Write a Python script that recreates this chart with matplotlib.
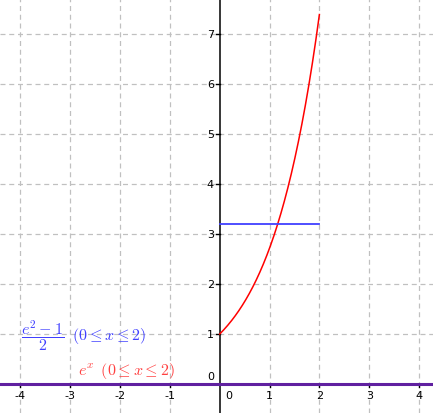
import numpy as np
from matplotlib import pyplot as plt

plt.rcParams['mathtext.fontset'] = 'cm'

# data
x_ticks = [-4, -3, -2, -1, 0, 1, 2, 3, 4]
y_ticks = [0, 1, 2, 3, 4, 5, 6, 7]
x_lo, x_hi = 0, 2
blue_val = (np.e ** 2 - 1) / 2

fig = plt.figure(figsize=(4.33, 4.14), dpi=100)
ax = fig.add_axes([0, 0, 1, 1])
ax.set_xlim(-4.41, 4.28)
ax.set_ylim(-0.58, 7.70)
for s in ax.spines.values():
    s.set_visible(False)
ax.set_xticks([])
ax.set_yticks([])

# dashed grid
for xv in x_ticks:
    if xv != 0:
        ax.axvline(xv, color='#c0c0c0', lw=0.9, dashes=(4, 3), zorder=0)
for yv in y_ticks:
    if yv != 0:
        ax.axhline(yv, color='#c0c0c0', lw=0.9, dashes=(4, 3), zorder=0)

# axes
ax.axvline(0, color='black', lw=1.1, zorder=2)
ax.axhline(0, color='#6020a0', lw=2.2, zorder=3)

# tick marks and labels
for yv in y_ticks:
    if yv != 0:
        ax.plot([-0.08, 0], [yv, yv], color='black', lw=1, zorder=2)
        ax.text(-0.12, yv, str(yv), ha='right', va='center', fontsize=8)
ax.text(-0.12, 0.06, '0', ha='right', va='bottom', fontsize=8)
for xv in x_ticks:
    if xv != 0:
        ax.plot([xv, xv], [-0.06, 0], color='black', lw=1, zorder=2)
        ax.text(xv, -0.13, str(xv), ha='center', va='top', fontsize=8)
ax.text(0.18, -0.13, '0', ha='center', va='top', fontsize=8)

# functions
xs = np.linspace(x_lo, x_hi, 200)
ax.plot(xs, np.exp(xs), color='red', lw=1.1, zorder=4)
ax.plot([x_lo, x_hi], [blue_val, blue_val], color='#4040ff', lw=1.3, zorder=4)

ax.text(-3.98, 0.98, r'$\dfrac{e^2-1}{2}\;\ (0 \leq x \leq 2)$', color='#4040ff',
        ha='left', va='center', fontsize=11.5)
ax.text(-2.85, 0.28, r'$e^x\ \,(0 \leq x \leq 2)$', color='#ff4040',
        ha='left', va='center', fontsize=11.5)

fig.savefig('out.png', dpi=100)
